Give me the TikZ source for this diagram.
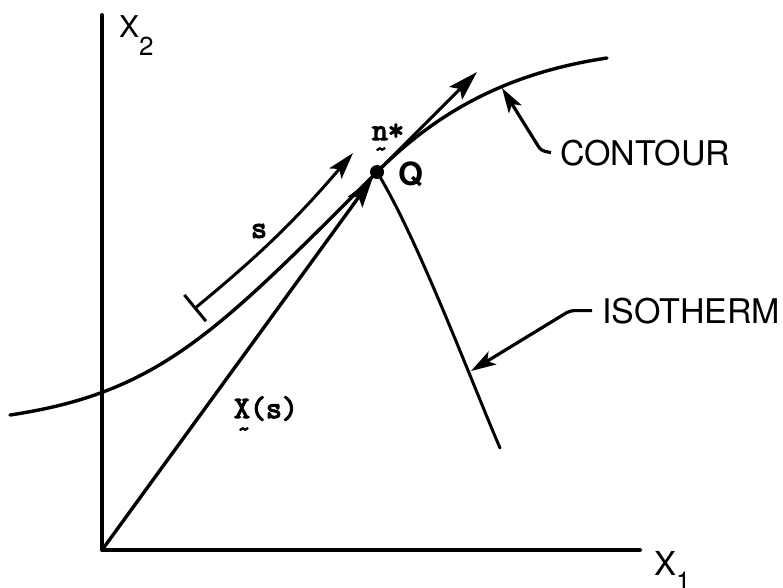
\documentclass[tikz,border=0pt]{standalone}
\usepackage{fontspec}
\setmainfont{TeX Gyre Heros}
\newfontfamily\tw{Latin Modern Mono}[FakeBold=4]
\usetikzlibrary{arrows.meta}
\tikzset{
  axisline/.style={line width=4pt, line cap=round, line join=round},
  curveline/.style={line width=3.4pt, line cap=round},
  thinline/.style={line width=3pt, line cap=round},
  leader/.style={line width=3.2pt, rounded corners=4pt, -{Stealth[length=25pt,width=15pt,inset=6pt]}},
  bigtip/.style={-{Stealth[length=30pt,width=18pt,inset=6pt]}},
  lbl/.style={inner sep=0pt, outer sep=0pt},
  monolbl/.style={lbl, font=\tw\fontsize{31}{33}\selectfont},
  tildelbl/.style={lbl, font=\tw\fontsize{24}{26}\selectfont},
  caplbl/.style={lbl, font=\fontsize{34}{38}\selectfont},
}
\begin{document}
\begin{tikzpicture}[x=1pt,y=-1pt]
\useasboundingbox (0,0) rectangle (783,587);
% axes
\coordinate (O) at (102,550);
\coordinate (ytop) at (102,15);
\coordinate (xend) at (640,550);
\draw[axisline] (ytop) -- (O) -- (xend);
\node[lbl, anchor=base west, font=\fontsize{30}{34}\selectfont] (x2) at (119,37) {X\raisebox{-18pt}{\fontsize{26}{28}\selectfont 2}};
\node[lbl, anchor=base west, font=\fontsize{33}{36}\selectfont] (x1) at (654,575) {X\raisebox{-15pt}{\fontsize{26}{28}\selectfont 1}};
% point Q
\node[circle, fill=black, inner sep=0pt, minimum size=14pt] (Q) at (377,172) {};
% contour
\draw[curveline] (10,415) .. controls (160,392.5) and (217,332) .. (Q.center)
                 .. controls (437,112) and (507,73) .. (607,58);
% isotherm
\draw[thinline] (Q.center) .. controls (417,237) and (470,378) .. (500,448);
% position vector
\draw[curveline, bigtip] (O) -- (Q);
% tangent n*
\coordinate (ttip) at (477,72);
\draw[thinline, bigtip] (Q.center) -- (ttip);
% arc length s
\coordinate (sstart) at (194,309);
\coordinate (send) at (353,153);
\draw[thinline, {Bar[width=34pt]}-{Stealth[length=27pt,width=16pt,inset=6pt]}] (sstart) to[bend right=5] (send);
% labels
\node[monolbl] (slbl) at (259,231) {s};
\node[monolbl, anchor=base west] (nlbl) at (372,140) {n*};
\node[tildelbl] (ntilde) at (381,152) {\textasciitilde};
\node[lbl, anchor=base west, font=\bfseries\fontsize{32}{34}\selectfont] (qlbl) at (398,185) {Q};
\node[monolbl, anchor=base west] (xslbl) at (234,418) {X(s)};
\node[tildelbl] (xtilde) at (244,432) {\textasciitilde};
% leaders
\coordinate (ctip) at (502,88);
\coordinate (itip) at (471,371);
\node[caplbl, anchor=base west] (contour) at (560,165) {CONTOUR};
\node[caplbl, anchor=base west] (isotherm) at (602,323) {ISOTHERM};
\draw[leader] ([xshift=-9pt]contour.west) -- ++(-10,-2) -- (ctip);
\draw[leader] ([xshift=-10pt]isotherm.west) -- ++(-22,0) -- (itip);
\end{tikzpicture}
\end{document}
